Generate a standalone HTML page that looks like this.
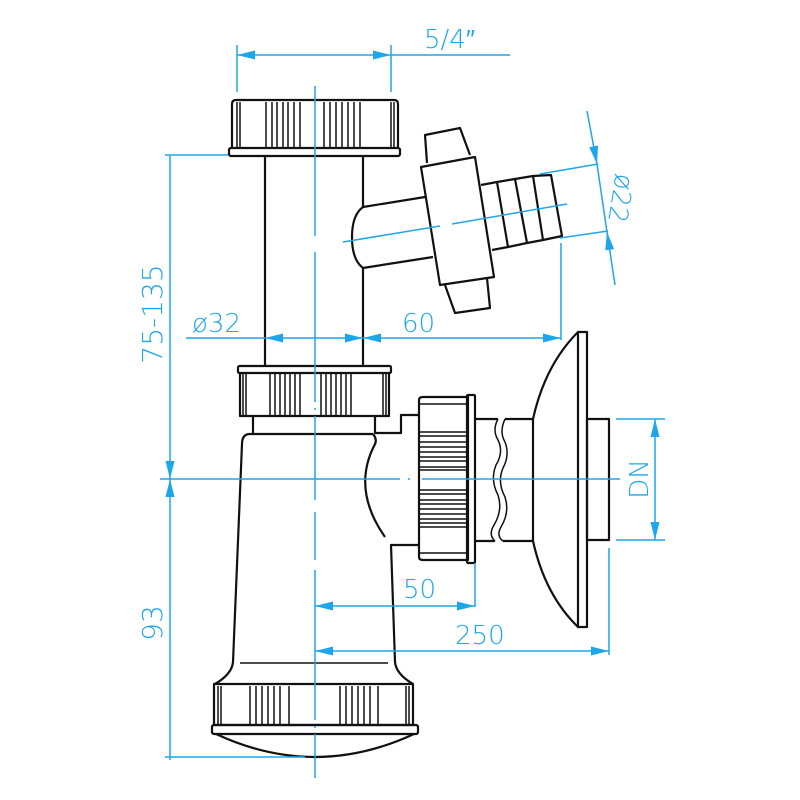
<!DOCTYPE html>
<html><head><meta charset="utf-8"><style>
html,body{margin:0;padding:0;background:#fff}
svg{display:block}
text{font-family:"DejaVu Sans","Liberation Sans",sans-serif;fill:#1ea6ea;font-weight:300}
</style></head><body>
<svg width="800" height="800" viewBox="0 0 800 800" xmlns="http://www.w3.org/2000/svg">
<defs>
<marker id="a" viewBox="0 0 18 9" refX="18" refY="4.5" markerWidth="18" markerHeight="9" markerUnits="userSpaceOnUse" orient="auto-start-reverse"><path d="M0,0 L18,4.5 L0,9 Z" fill="#1ea6ea"/></marker>
</defs>
<g fill="none" stroke="#111" stroke-width="2.2" stroke-linejoin="round">
<path d="M232,148 V104 Q232,100 236,100 H394 Q398,100 398,104 V148"/>
<rect x="229" y="148" width="171" height="8" rx="2"/>
<g stroke-width="1.5">
<path d="M237,102V148M240,102V148M266,102V148M272,102V148M277,102V148M283,102V148M288,102V148M294,102V148M300,102V148M324,102V148M330,102V148M336,102V148M342,102V148M348,102V148M354,102V148M360,102V148M391,102V148M394,102V148"/>
</g>
<path d="M265,156V366M363,156V207M363,268V366"/>
<rect x="238" y="366" width="153" height="7" rx="1.5"/>
<path d="M240,373V416H389V373"/>
<g stroke-width="1.5">
<path d="M243,374V415M246,374V415M270,374V415M275,374V415M280,374V415M285,374V415M290,374V415M295,374V415M300,374V415M321,374V415M326,374V415M331,374V415M336,374V415M341,374V415M346,374V415M351,374V415M383,374V415M386,374V415"/>
</g>
<path d="M253,416V433M375,416V433H401V415H419"/>
<path d="M373,434 H250 Q242,434 242,444 L233,662 Q232,674 215,684"/>
<path d="M373,434 Q378,440 374,446 Q352,490 385,537"/>
<path d="M419,545 H391 L395,662 Q396,674 413,684"/>
<path d="M240,663H388" stroke-width="1.5"/>
<rect x="214" y="684" width="199" height="41"/>
<rect x="212" y="725" width="206" height="9" rx="2"/>
<path d="M216,734 Q315,780 414,734"/>
<g stroke-width="1.5">
<path d="M218,686V724M221,686V724M250,686V724M256,686V724M262,686V724M268,686V724M274,686V724M280,686V724M289,686V724M340,686V724M346,686V724M352,686V724M358,686V724M364,686V724M370,686V724M378,686V724M406,686V724M409,686V724"/>
</g>
<path d="M419,400 Q419,397 423,397 H468 V560 H423 Q419,560 419,557 Z"/>
<rect x="467" y="395" width="8" height="168" rx="1"/>
<g stroke-width="1.5">
<path d="M420,404H467M420,432H467M420,436H467M420,442H467M420,447H467M420,452H467M420,457H467M420,461H467M420,467H467M420,470H467M420,490H467M420,494H467M420,500H467M420,504H467M420,509H467M420,514H467M420,519H467M420,523H467M420,527H467M420,553H467"/>
</g>
<path d="M475,419H498M475,541H495"/>
<path d="M498,419 Q492,430 498,440 Q504,452 496,465 Q490,480 498,495 Q503,510 494,525 Q488,535 495,541" stroke-width="1.5"/>
<path d="M505,419 Q499,432 505,442 Q510,455 503,468 Q497,482 505,497 Q510,512 501,527 Q496,536 503,541" stroke-width="1.5"/>
<path d="M505,419H533M503,541H533"/>
<path d="M533,419V541"/>
<path d="M533,419 Q545,365 578,332"/>
<path d="M533,541 Q545,595 578,627"/>
<rect x="578" y="332" width="9" height="295"/>
<rect x="587" y="419" width="22" height="121"/>
<path d="M363,207 L425,197 M363,268 L433,257 M363,207 Q352,215 352,237 Q352,260 363,268"/>
<path d="M421,167 L475,157 L494,277 L440,285 Z"/>
<path d="M427,163 L425,135 L460,128 L470,155"/>
<path d="M445,285 L455,313 L490,308 L487,278"/>
<path d="M481,185 L497,182 L508,247 L492,250"/>
<path d="M497,182 L515,179 L527,243 L508,247"/>
<path d="M515,179 L533,176 L543,240 L527,243"/>
<path d="M533,176 L551,175 L562,236 L543,240"/>
</g>
<g fill="none" stroke="#1ea6ea" stroke-width="1.5">
<path d="M315,86V240 M315,252V500 M315,512V560 M315,570V778" stroke-dasharray="150 6 2 6"/>
<path d="M160,479H410 M422,479H620" stroke-dasharray="240 8 2 8"/>
<path d="M343,242 L440,226 M452,224 L567,204"/>
<path d="M237,45V92 M391,45V92"/>
<path d="M237,55H391" marker-start="url(#a)" marker-end="url(#a)"/>
<path d="M391,55H510"/>
<path d="M165,155H228 M165,757H305"/>
<path d="M170,155V479" marker-end="url(#a)"/>
<path d="M170,479V760" marker-start="url(#a)"/>
<path d="M186,338H265"/>
<path d="M265,338H363" marker-start="url(#a)" marker-end="url(#a)"/>
<path d="M363,338H561" marker-start="url(#a)" marker-end="url(#a)"/>
<path d="M561,243V340"/>
<path d="M540,174L598,164 M560,238L608,231"/>
<path d="M587,111L597,164" marker-end="url(#a)"/>
<path d="M615,285L607,232" marker-end="url(#a)"/>
<path d="M597,164L607,232"/>
<path d="M616,419H665 M616,540H665"/>
<path d="M655,419V540" marker-start="url(#a)" marker-end="url(#a)"/>
<path d="M475,563V607 M609,548V655"/>
<path d="M315,606H475" marker-start="url(#a)" marker-end="url(#a)"/>
<path d="M315,651H609" marker-start="url(#a)" marker-end="url(#a)"/>
</g>
<text x="424" y="48" font-size="26">5/4″</text>
<text x="192" y="332" font-size="26">ø32</text>
<text x="402" y="332" font-size="26">60</text>
<text x="403" y="598" font-size="26">50</text>
<text x="455" y="644" font-size="26">250</text>
<text transform="translate(162,314) rotate(-90)" font-size="28" text-anchor="middle">75-135</text>
<text transform="translate(162,623) rotate(-90)" font-size="28" text-anchor="middle">93</text>
<text transform="translate(648,479) rotate(-90)" font-size="26" text-anchor="middle">DN</text>
<text transform="translate(612,197) rotate(99)" font-size="26" text-anchor="middle">ø22</text>
</svg>
</body></html>
